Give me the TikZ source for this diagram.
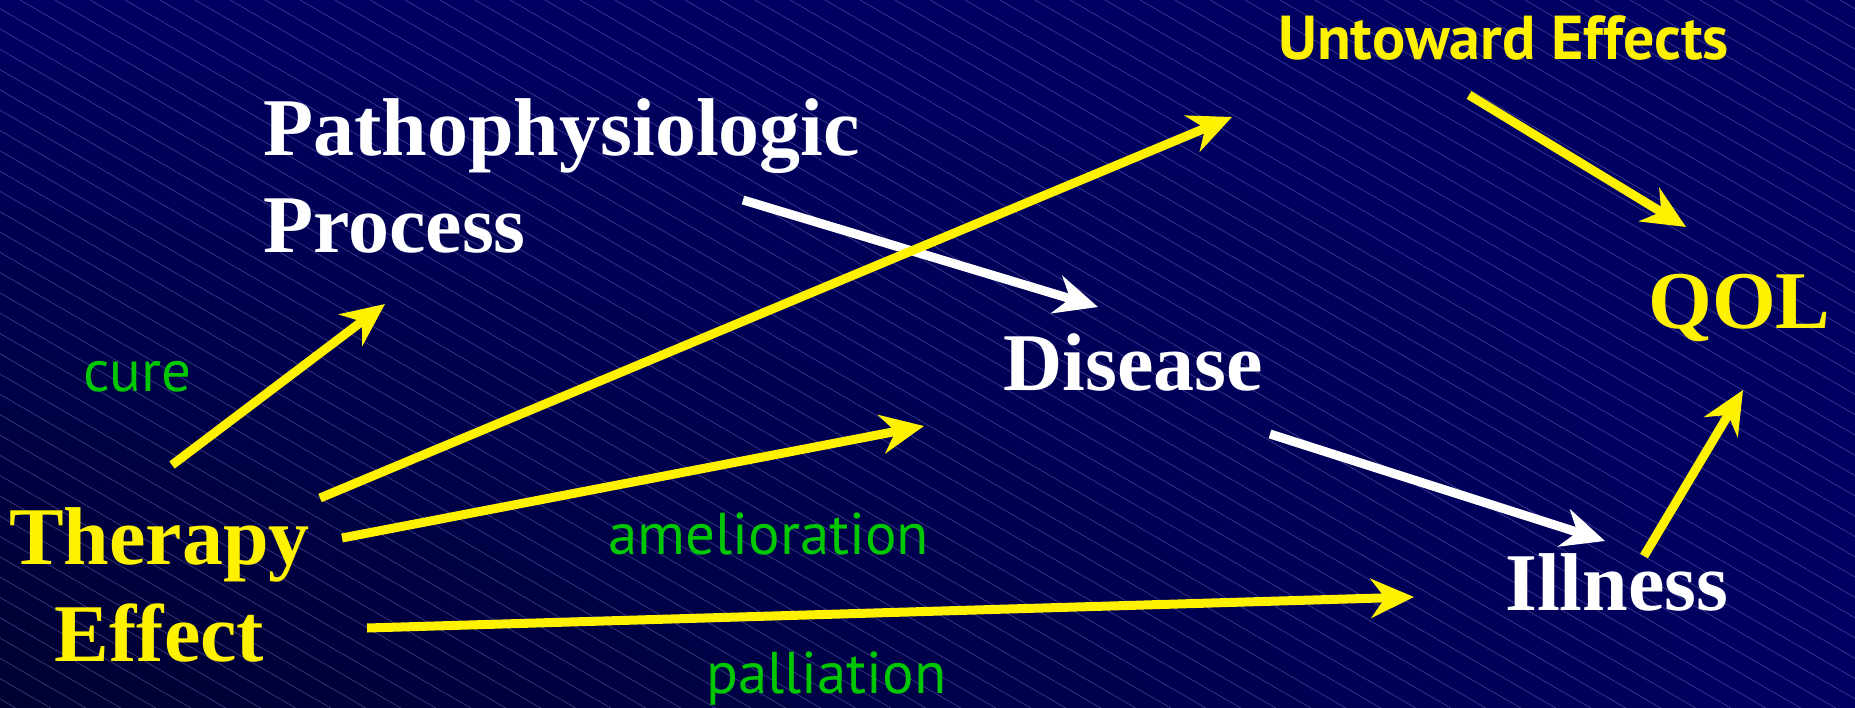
\documentclass[tikz,border=0pt]{standalone}
\usepackage{fontspec}
\setmainfont{Liberation Serif}
\newfontfamily\labelfont{PT Sans}
\usetikzlibrary{arrows.meta,shadings}

\definecolor{navy}{RGB}{0,0,98}
\definecolor{darknavy}{RGB}{0,0,48}
\definecolor{hatch}{RGB}{130,130,205}
\definecolor{lblgreen}{RGB}{0,200,0}

\begin{document}
\begin{tikzpicture}[x=1pt,y=1pt,
  big/.style={font=\fontsize{82}{97}\selectfont\bfseries, inner sep=0pt, anchor=base west},
  lbl/.style={font=\labelfont\fontsize{59}{59}\selectfont, text=lblgreen, inner sep=0pt, anchor=base west},
  arr/.style={line width=9pt, -{Stealth[length=43pt,width=39pt,inset=14pt]}}]
\useasboundingbox (0,0) rectangle (1855,-707);
% background
\shade[upper left=navy, upper right=navy, lower right=navy, lower left=darknavy] (0,0) rectangle (1855,-707);
\begin{scope}
\clip (0,0) rectangle (1855,-707);
\foreach \x in {-1240,-1205,...,1855}
  \draw[hatch, line width=0.7pt, opacity=0.45] (\x,0) -- ++(1300,-754);
\end{scope}
% labels (base = baseline of the last line)
\node[big, text=white, align=left] (path) at (263,-252) {Pathophysiologic\\Process};
\node[big, text=yellow, align=center] (therapy) at (9,-661) {Therapy\\Effect};
\node[big, text=white] (disease) at (1003,-390) {Disease};
\node[big, text=white] (illness) at (1505,-610) {Illness};
\node[big, text=yellow] (qol) at (1648,-328) {QOL};
\node[font=\labelfont\bfseries\fontsize{62}{62}\selectfont, text=yellow, inner sep=0pt, anchor=base west] (untoward) at (1278,-59) {Untoward Effects};
\node[lbl] (cure) at (83,-391) {cure};
\node[lbl] (amel) at (608,-554) {amelioration};
\node[lbl] (pall) at (706,-693) {palliation};
% arrows
\draw[arr, white] ([shift={(480,52)}]path.base west) -- ([shift={(95,83)}]disease.base west);
\draw[arr, white] ([shift={(267,-44)}]disease.base west) -- ([shift={(100,69)}]illness.base west);
\draw[arr, yellow] ([shift={(163,196)}]therapy.base west) -- ([shift={(122,-52)}]path.base west);
\draw[arr, yellow] ([shift={(311,163)}]therapy.base west) -- ([shift={(-46,-58)}]untoward.base west);
\draw[arr, yellow] ([shift={(333,123)}]therapy.base west) -- ([shift={(-79,-36)}]disease.base west);
\draw[arr, yellow] ([shift={(358,33)}]therapy.base west) -- ([shift={(-91,13)}]illness.base west);
\draw[arr, yellow] ([shift={(191,-36)}]untoward.base west) -- ([shift={(38,101)}]qol.base west);
\draw[arr, yellow] ([shift={(139,54)}]illness.base west) -- ([shift={(95,-62)}]qol.base west);
\end{tikzpicture}
\end{document}
